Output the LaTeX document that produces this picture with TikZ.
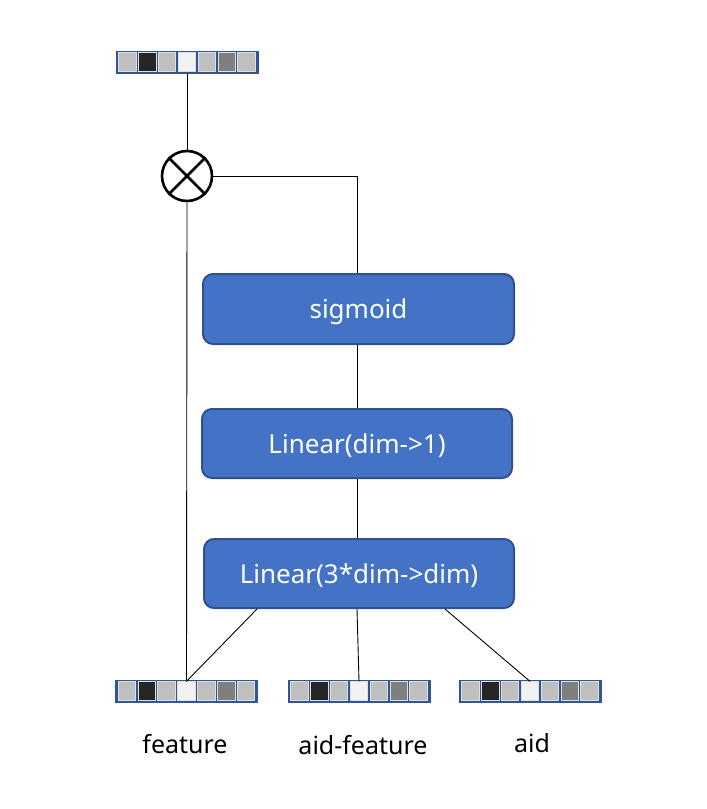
\documentclass[tikz,border=0pt]{standalone}
\usepackage{fontspec}
\setmainfont{Noto Sans}
\usetikzlibrary{calc}
\definecolor{boxfill}{HTML}{4472C4}
\definecolor{boxdraw}{HTML}{2F528F}
\definecolor{vecdraw}{HTML}{2F5597}
\definecolor{cA}{HTML}{BFBFBF}
\definecolor{cB}{HTML}{262626}
\definecolor{cC}{HTML}{F2F2F2}
\definecolor{cD}{HTML}{7F7F7F}
\newcommand\vecrow[3]{%
  \node[vecouter] (#1) at (#2,#3) {};
  \foreach \c [count=\i] in {cA,cB,cA,cC,cA,cD,cA}{%
    \node[vcell, fill=\c] (#1-\i) at ({#2-69.5+(\i-0.5)*19.857},#3) {};
  }%
}
\begin{document}
\begin{tikzpicture}[x=1pt,y=-1pt,
  vecouter/.style={draw=none, fill=vecdraw, minimum width=143pt, minimum height=23pt, inner sep=0pt},
  vcell/.style={draw=white!75!gray, line width=0.8pt, minimum width=17.5pt, minimum height=18.5pt, inner sep=0pt},
  blockbox/.style={draw=boxdraw, line width=2pt, fill=boxfill, rounded corners=10pt, minimum width=310pt, minimum height=69pt, inner sep=0pt, text=white, font=\fontsize{26}{30}\selectfont, text height=19pt, text depth=0pt},
  lbl/.style={font=\fontsize{25}{30}\selectfont, inner sep=0pt, text height=18pt, text depth=0pt},
  conn/.style={draw=black, line width=0.9pt},
  multnode/.style={circle, draw=black, line width=2.6pt, minimum size=50pt, inner sep=0pt}
]
\useasboundingbox (0,0) rectangle (707,809);
\vecrow{top}{187}{62}
\vecrow{feat}{186.5}{691}
\vecrow{afeat}{359}{691}
\vecrow{aid}{530}{691}
\node[multnode] (mul) at (187,176) {};
\draw[line width=2.6pt] (mul.45) -- (mul.225) (mul.135) -- (mul.315);
\node[blockbox, minimum width=311pt, minimum height=70pt] (sig) at (358.5,309) {sigmoid};
\node[blockbox] (lin1) at (357,443.5) {Linear(dim->1)};
\node[blockbox] (lin2) at (359,573.5) {Linear(3*dim->dim)};
\coordinate (spine) at (357,0);
\node[lbl] (lfeat) at (185,744) {feature};
\node[lbl] (lafeat) at (363,745) {aid-feature};
\node[lbl] (laid) at (532,743) {aid};
\draw[conn] (top.south) -- (mul.north);
\draw[conn] (mul.east) -- (spine |- mul.east) -- (spine |- sig.north);
\draw[conn] (spine |- sig.south) -- (spine |- lin1.north);
\draw[conn] (spine |- lin1.south) -- (spine |- lin2.north);
\draw[conn] (mul.south) -- (feat-4.north);
\draw[conn] ($(lin2.south west)+(54,0)$) -- (feat-4.north);
\draw[conn] (spine |- lin2.south) -- (afeat-4.north);
\draw[conn] ($(lin2.south west)+(242,0)$) -- (aid-4.north);
\end{tikzpicture}
\end{document}
